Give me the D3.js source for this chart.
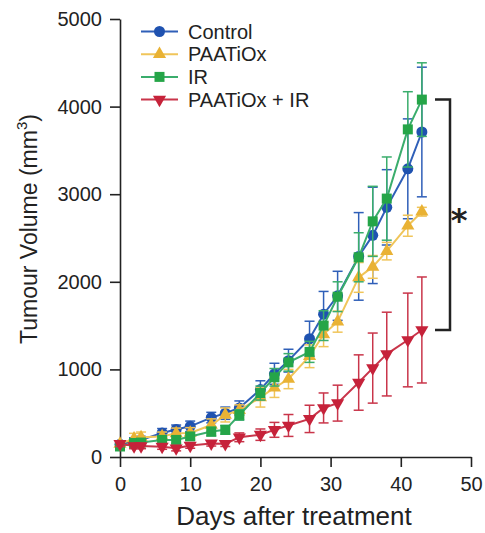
<!DOCTYPE html>
<html><head><meta charset="utf-8">
<script src="https://cdn.jsdelivr.net/npm/d3@7"></script>
<style>
body{margin:0;background:#fff;}
svg{display:block;font-family:"Liberation Sans",Arial,sans-serif;}
</style></head>
<body>
<svg id="chart" width="485" height="533"></svg>
<script>
const days = [0,2,3,6,8,10,13,15,17,20,22,24,27,29,31,34,36,38,41,43];
const seriesNames = ["Control","PAATiOx","IR","PAATiOx + IR"];
const control    = [145,180,195,275,315,350,450,500,560,770,950,1100,1350,1630,1840,2290,2530,2850,3290,3710];
const controlErr = [30,40,40,50,50,60,60,70,80,100,120,130,200,260,280,500,550,430,570,740];
const paatiox    = [150,210,225,235,270,275,365,480,535,680,790,890,1150,1400,1545,2050,2170,2350,2640,2800];
const paatioxErr = [30,60,60,50,60,60,70,80,60,110,110,110,130,140,120,170,130,100,120,50];
const ir         = [120,160,165,195,195,235,290,310,480,730,910,1080,1200,1500,1830,2280,2690,2950,3740,4080];
const irErr      = [20,30,30,40,40,40,50,50,60,80,100,100,120,170,170,280,400,475,430,420];
const combo      = [150,125,125,118,100,130,155,150,225,255,310,360,435,560,615,850,1015,1175,1336,1450];
const comboErr   = [30,30,30,30,30,30,30,30,50,65,85,125,156,171,205,316,400,478,535,605];
const xTicks = [0,10,20,30,40,50];
const yTicks = [0,1000,2000,3000,4000,5000];

const values = [control, paatiox, ir, combo];
const errors = [controlErr, paatioxErr, irErr, comboErr];
const lineColors = ["#2f5fb8","#f0c55a","#3aad6c","#c9354a"];
const markColors = ["#1f52b0","#e9b234","#25a548","#c6223a"];
const symbols = [d3.symbolCircle, d3.symbolTriangle, d3.symbolSquare, d3.symbolTriangle];
const symSizes = [95, 75, 100, 75];
const symRot = [0,0,0,180];

const svg = d3.select("#chart");
const x = d3.scaleLinear().domain([0,50]).range([120,471]);
const y = d3.scaleLinear().domain([0,5000]).range([457,19]);

// axes
const xAxis = svg.append("g").attr("transform","translate(0,457)")
  .call(d3.axisBottom(x).tickValues(xTicks).tickFormat(d3.format("d")).tickSize(10).tickSizeOuter(0).tickPadding(10));
const yAxis = svg.append("g").attr("transform","translate(120,0)")
  .call(d3.axisLeft(y).tickValues(yTicks).tickFormat(d3.format("d")).tickSize(10).tickSizeOuter(0).tickPadding(8));
[xAxis,yAxis].forEach(a=>{
  a.selectAll("path,line").attr("stroke","#222").attr("stroke-width",1.6);
  a.selectAll("text").attr("font-size",20).attr("fill","#222");
});

svg.append("text").attr("x",294).attr("y",525).attr("text-anchor","middle")
  .attr("font-size",26).attr("fill","#222").text("Days after treatment");
const yl = svg.append("text").attr("transform","translate(37,229) rotate(-90)")
  .attr("text-anchor","middle").attr("font-size",23).attr("fill","#222");
yl.append("tspan").text("Tumour Volume (mm");
yl.append("tspan").attr("font-size",15).attr("dy",-10).text("3");
yl.append("tspan").attr("dy",10).text(")");

// series
values.forEach((vals,si)=>{
  const g = svg.append("g");
  const errs = errors[si];
  const col = lineColors[si];
  days.forEach((d,i)=>{
    const cx = x(d), y1 = y(vals[i]+errs[i]), y2 = y(vals[i]-errs[i]);
    g.append("line").attr("x1",cx).attr("x2",cx).attr("y1",y1).attr("y2",y2).attr("stroke",col).attr("stroke-width",1.5);
    g.append("line").attr("x1",cx-5).attr("x2",cx+5).attr("y1",y1).attr("y2",y1).attr("stroke",col).attr("stroke-width",1.5);
    g.append("line").attr("x1",cx-5).attr("x2",cx+5).attr("y1",y2).attr("y2",y2).attr("stroke",col).attr("stroke-width",1.5);
  });
  const line = d3.line().x((d,i)=>x(days[i])).y(d=>y(d));
  g.append("path").datum(vals).attr("d",line).attr("fill","none").attr("stroke",col).attr("stroke-width",2);
  const sym = d3.symbol().type(symbols[si]).size(symSizes[si]);
  g.selectAll("path.m").data(vals).enter().append("path").attr("class","m")
    .attr("d",sym).attr("fill",markColors[si])
    .attr("transform",(d,i)=>`translate(${x(days[i])},${y(d)}) rotate(${symRot[si]})`);
});

// legend
const leg = svg.append("g");
seriesNames.forEach((n,i)=>{
  const ly = 31.5 + i*22.7;
  leg.append("line").attr("x1",141).attr("x2",178).attr("y1",ly).attr("y2",ly).attr("stroke",lineColors[i]).attr("stroke-width",2);
  leg.append("path").attr("d",d3.symbol().type(symbols[i]).size(symSizes[i])()).attr("fill",markColors[i])
    .attr("transform",`translate(159.5,${ly}) rotate(${symRot[i]})`);
  leg.append("text").attr("x",188).attr("y",ly+7).attr("font-size",20).attr("fill","#222").text(n);
});

// significance bracket
const yTop = y(ir[ir.length-1]), yBot = y(combo[combo.length-1]);
svg.append("path").attr("d",`M435,${yTop}H450V${yBot}H435`).attr("fill","none").attr("stroke","#222").attr("stroke-width",2.5);
svg.append("text").attr("x",459).attr("y",(yTop+yBot)/2+16).attr("text-anchor","middle")
  .attr("font-size",32).attr("font-weight","bold").attr("fill","#222").attr("font-family","DejaVu Sans").text("*");
</script>
</body></html>
